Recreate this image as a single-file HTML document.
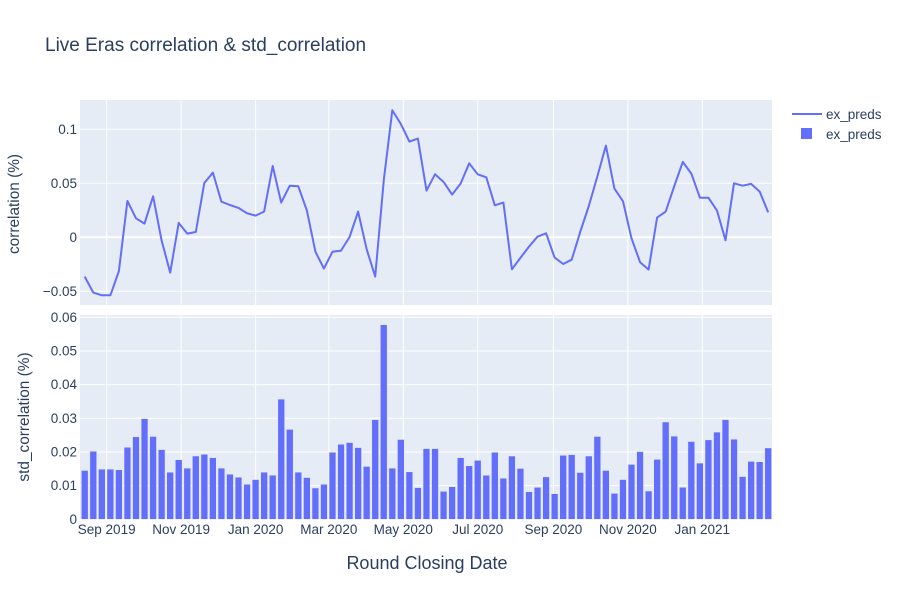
<!DOCTYPE html>
<html><head><meta charset="utf-8"><style>
body{margin:0;background:#fff}
svg{font-family:"Liberation Sans",sans-serif;display:block}
</style></head><body>
<svg id="chart" width="900" height="600"></svg>
<script>
const corrValues=[-0.0364,-0.0512,-0.0537,-0.0537,-0.0312,0.0336,0.0176,0.0127,0.038,-0.003,-0.0327,0.0133,0.0034,0.0049,0.0503,0.0599,0.033,0.0299,0.0272,0.0222,0.0201,0.0238,0.066,0.0321,0.0478,0.0472,0.0247,-0.0133,-0.029,-0.0133,-0.0123,0.0003,0.0238,-0.0111,-0.0364,0.0531,0.1176,0.105,0.0886,0.0914,0.0432,0.0583,0.0512,0.0395,0.0497,0.0685,0.0583,0.0556,0.0296,0.0321,-0.0296,-0.0191,-0.0086,0.0006,0.0037,-0.0188,-0.0247,-0.0207,0.0052,0.029,0.0562,0.0849,0.0451,0.0333,-0.0009,-0.0231,-0.0299,0.0182,0.0238,0.0472,0.0698,0.059,0.0367,0.0367,0.0247,-0.0028,0.05,0.0478,0.0494,0.0423,0.0231];
const stdValues=[0.0145,0.0202,0.0149,0.0149,0.0147,0.0214,0.0245,0.0299,0.0246,0.0207,0.014,0.0177,0.0152,0.0188,0.0193,0.0183,0.0152,0.0134,0.0125,0.0104,0.0118,0.014,0.0131,0.0357,0.0267,0.014,0.0124,0.0093,0.0104,0.0199,0.0223,0.0228,0.0213,0.0157,0.0296,0.0578,0.0152,0.0237,0.0141,0.0094,0.021,0.021,0.0083,0.0097,0.0183,0.0159,0.0175,0.0131,0.0199,0.0122,0.0188,0.0151,0.0082,0.0095,0.0126,0.0076,0.019,0.0192,0.0139,0.0188,0.0246,0.0145,0.0077,0.0118,0.0163,0.0201,0.0084,0.0178,0.0289,0.0247,0.0095,0.0231,0.0167,0.0236,0.0259,0.0296,0.0238,0.0127,0.0172,0.0171,0.0212];
const firstDate="2019-08-14";
const xTickLabels=["Sep 2019","Nov 2019","Jan 2020","Mar 2020","May 2020","Jul 2020","Sep 2020","Nov 2020","Jan 2021"];
const xTickDates=["2019-09-01","2019-11-01","2020-01-01","2020-03-01","2020-05-01","2020-07-01","2020-09-01","2020-11-01","2021-01-01"];
const corrTicks=[-0.05,0,0.05,0.1];
const corrTickLabels=["−0.05","0","0.05","0.1"];
const stdTicks=[0,0.01,0.02,0.03,0.04,0.05,0.06];
const stdTickLabels=["0","0.01","0.02","0.03","0.04","0.05","0.06"];

const NS="http://www.w3.org/2000/svg";
const svg=document.getElementById('chart');
function mk(tag,attrs,parent){const e=document.createElementNS(NS,tag);for(const k in attrs)e.setAttribute(k,attrs[k]);(parent||svg).appendChild(e);return e;}
const L=80,R=772,T1=100,B1=305,T2=315,B2=519;
const base=Date.parse("2019-09-01");
const day=86400000;
function xs(ms){return 106.7+((ms-base)/day)*1.2205;}
function dateOf(i){return Date.parse(firstDate)+i*7*day;}
function y1(v){return 237.3-v*1080;}
function y2(v){return 519.3-v*3367;}
let r=mk('rect',{x:L,y:T1,width:R-L,height:B1-T1,fill:'#e5ecf6'});

r=mk('rect',{x:L,y:T2,width:R-L,height:B2-T2,fill:'#e5ecf6'});

xTickDates.forEach((d,i)=>{const x=xs(Date.parse(d));
 let g=mk('line',{x1:x,x2:x,y1:T1,y2:B1,stroke:'#fff','stroke-width':1});
 
 g=mk('line',{x1:x,x2:x,y1:T2,y2:B2,stroke:'#fff','stroke-width':1});
 
 const t=mk('text',{x:x,y:534,'text-anchor':'middle','font-size':13.5,fill:'#2a3f5f'});t.textContent=xTickLabels[i];
 
});
corrTicks.forEach((v,i)=>{const y=y1(v);
 const g=mk('line',{x1:L,x2:R,y1:y,y2:y,stroke:'#fff','stroke-width':v===0?2:1});
 
 const t=mk('text',{x:L-3,y:y+4.5,'text-anchor':'end','font-size':13.5,fill:'#2a3f5f'});t.textContent=corrTickLabels[i];
 
});
stdTicks.forEach((v,i)=>{const y=y2(v);
 if(v>0){const g=mk('line',{x1:L,x2:R,y1:y,y2:y,stroke:'#fff','stroke-width':1});
 }
 const t=mk('text',{x:L-3,y:y+4.5,'text-anchor':'end','font-size':13.5,fill:'#2a3f5f'});t.textContent=stdTickLabels[i];
 
});
const bw=6.8;
stdValues.forEach((v,i)=>{const x=xs(dateOf(i));
 const b=mk('rect',{x:x-bw/2,y:y2(v),width:bw,height:y2(0)-y2(v),fill:'#636efa',stroke:'#e5ecf6','stroke-width':0.5});
 
});
const pts=corrValues.map((v,i)=>xs(dateOf(i)).toFixed(1)+','+y1(v).toFixed(1)).join(' ');
const pl=mk('polyline',{points:pts,fill:'none',stroke:'#636efa','stroke-width':2,'stroke-linejoin':'round'});

let t=mk('text',{x:45,y:51,'font-size':19,fill:'#2a3f5f'});t.textContent='Live Eras correlation & std_correlation';

t=mk('text',{x:427,y:569,'text-anchor':'middle','font-size':18,fill:'#2a3f5f'});t.textContent='Round Closing Date';

t=mk('text',{x:0,y:0,'text-anchor':'middle','font-size':15.4,fill:'#2a3f5f',transform:'translate(19,204) rotate(-90)'});t.textContent='correlation (%)';

t=mk('text',{x:0,y:0,'text-anchor':'middle','font-size':15.4,fill:'#2a3f5f',transform:'translate(29,417) rotate(-90)'});t.textContent='std_correlation (%)';

let g=mk('g',{});
mk('line',{x1:792,x2:822,y1:114,y2:114,stroke:'#636efa','stroke-width':2},g);
let lt=mk('text',{x:826,y:119,'font-size':13.5,fill:'#2a3f5f'},g);lt.textContent='ex_preds';
g=mk('g',{});
mk('rect',{x:801,y:128,width:11,height:11,fill:'#636efa'},g);
lt=mk('text',{x:826,y:139,'font-size':13.5,fill:'#2a3f5f'},g);lt.textContent='ex_preds';
</script>
</body></html>
